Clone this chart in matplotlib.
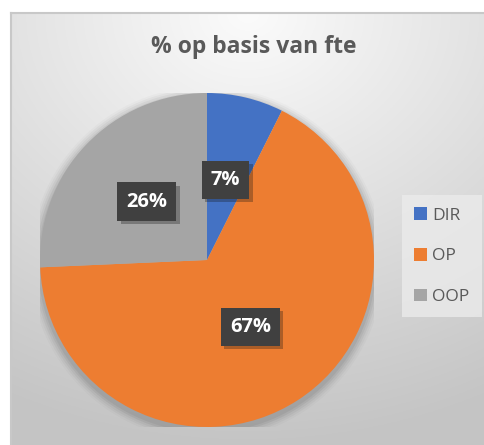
import numpy as np
import matplotlib
matplotlib.use('Agg')
import matplotlib.pyplot as plt
import matplotlib.patheffects as pe
from matplotlib.patches import Patch, Circle

labels = ['DIR', 'OP', 'OOP']
values = [7.4, 66.9, 25.7]
pct_text = ['7%', '67%', '26%']
colors = ['#4472c4', '#ed7d31', '#a5a5a5']
title = '% op basis van fte'

plt.rcParams['font.family'] = ['Open Sans', 'DejaVu Sans']

W, H = 485, 445
fig = plt.figure(figsize=(W / 100, H / 100), dpi=100)
fig.patch.set_facecolor('white')

# chart area background (gradient, lighter at the top)
bg = fig.add_axes([11 / W, 0, 1 - 11 / W, 1 - 13 / H])
yy, xx = np.mgrid[0:1:300j, 0:1:300j]
r = np.sqrt(((xx - 0.5) * 0.9) ** 2 + (yy * 1.0) ** 2)
r = np.clip(r / 1.0, 0, 1)
light = np.array([0.985, 0.985, 0.985])
dark = np.array([0.77, 0.77, 0.77])
img = light[None, None, :] * (1 - r[..., None]) + dark[None, None, :] * r[..., None]
bg.imshow(img, extent=[0, 1, 0, 1], origin='upper', aspect='auto')
bg.set_xlim(0, 1)
bg.set_ylim(0, 1)
bg.set_xticks([])
bg.set_yticks([])
for s in ['right', 'bottom']:
    bg.spines[s].set_visible(False)
for s in ['top', 'left']:
    bg.spines[s].set_color('#c8c8c8')
    bg.spines[s].set_linewidth(1.5)

# pie
cx, cy, rad = 207, 260, 167
ax = fig.add_axes([(cx - rad) / W, (H - cy - rad) / H, 2 * rad / W, 2 * rad / H])

wedges, _ = ax.pie(values, colors=colors, startangle=90, counterclock=False,
                   radius=1.0, wedgeprops=dict(linewidth=0))
ax.set_xlim(-1, 1)
ax.set_ylim(-1, 1)
ax.set_aspect('equal')
ax.axis('off')

# soft shadow
for i, a in enumerate([0.05, 0.05, 0.04, 0.03, 0.02]):
    ax.add_patch(Circle((0.0, -0.02), 1.0 + 0.012 * (i + 1), color='black', alpha=a, lw=0, zorder=0))

label_pos = [(0.11, 0.48), (0.26, -0.40), (-0.36, 0.35)]
for (x, y), t in zip(label_pos, pct_text):
    txt = ax.text(x, y, t, ha='center', va='center', fontsize=14.5, fontweight='bold', color='white',
                  bbox=dict(boxstyle='square,pad=0.45', fc='#404040', ec='none'), zorder=5)
    txt.get_bbox_patch().set_path_effects([pe.SimplePatchShadow(offset=(2.5, -2.5), alpha=0.3),
                                           pe.Normal()])

fig.text(254 / W, 1 - 47 / H, title, ha='center', va='center', fontsize=16.5,
         fontweight='bold', color='#595959')

handles = [Patch(facecolor=c, edgecolor='none') for c in colors]
leg = fig.legend(handles, labels, loc='upper left', bbox_to_anchor=(402 / W, 1 - 195 / H),
                 frameon=True, fontsize=12.5, labelspacing=1.4, handlelength=0.75,
                 handleheight=0.75, handletextpad=0.3, borderpad=0.7, fancybox=False,
                 borderaxespad=0)
leg.get_frame().set_facecolor('#ebebeb')
leg.get_frame().set_edgecolor('none')
leg.get_frame().set_alpha(0.8)
for t in leg.get_texts():
    t.set_color('#595959')

fig.savefig('out.png', dpi=100)
